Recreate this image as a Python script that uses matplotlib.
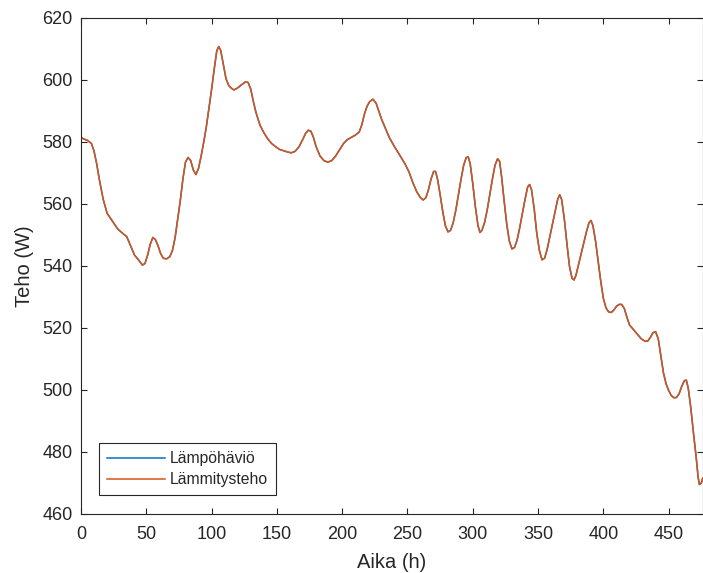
import matplotlib
matplotlib.use("Agg")
import matplotlib.pyplot as plt

plt.rcParams['font.family'] = ['Liberation Sans', 'DejaVu Sans']

# hours and power (W), both curves share the same values
hours = [0, 2, 5, 8, 10, 12, 14, 17, 20, 24, 28, 32, 35, 38, 41, 44, 47, 49, 51, 53,
         55, 57, 59, 61, 63, 65.5, 68, 70, 72, 74, 76, 78, 80, 82, 84, 86, 88, 90, 92, 94,
         96, 98, 100, 102, 104, 105.5, 107, 109, 111, 113, 115, 117, 119, 121, 123, 126, 128, 130, 132, 134,
         137, 140, 143, 146, 149, 152, 155, 158, 161, 164, 167, 170, 172, 174, 176, 178, 180, 183, 186, 189,
         192, 195, 198, 201, 204, 207, 210, 213, 215, 217, 219, 221, 223.5, 226, 228, 230, 233, 236, 240, 244,
         248, 251, 254, 257, 260, 262, 264, 266, 268, 270, 271.5, 273, 275, 277, 279, 281, 283, 285, 287, 289,
         291, 293, 295, 296.5, 298, 300, 302, 304, 305.5, 307, 309, 311, 313, 315, 317, 319, 320.5, 322, 324, 326,
         328, 330, 332, 334, 336, 338, 340, 342, 343.5, 345, 347, 349, 351, 353, 355, 357, 359, 361, 363, 365,
         366.5, 368, 370, 372, 374, 376, 377.5, 379, 381, 383, 385, 387, 389, 390.5, 392, 394, 396, 398, 400, 402,
         404, 406, 408, 410, 412, 414, 416, 418, 420, 423, 426, 429, 432, 434, 436, 438, 440, 442, 444, 446,
         448, 450, 452, 454, 456, 458, 460, 462, 463.5, 465, 467, 469, 471, 472.5, 473.5, 475, 476]
heat_loss = [581.5, 581, 580.5, 579.5, 577, 573, 568, 561.5, 557, 554.5, 552, 550.5, 549.5, 546.5, 543.5, 542, 540.3, 540.8, 543.5, 547,
             549.2, 548.5, 546.5, 544, 542.5, 542.3, 543, 545, 549, 555, 561, 568, 573.5, 575, 574, 571, 569.5, 571.5, 575.5, 580,
             585, 591, 597, 603.5, 609.5, 610.8, 609.5, 605, 600.5, 598.3, 597.4, 596.8, 597.2, 597.8, 598.5, 599.4, 599.2, 597, 593, 589.5,
             585.5, 583, 581, 579.5, 578.5, 577.6, 577.2, 576.8, 576.5, 577, 578.5, 581, 582.8, 583.8, 583.5, 581.5, 578.5, 575.5, 574, 573.5,
             574, 575.5, 577.5, 579.5, 580.8, 581.5, 582.2, 583.2, 585.5, 589, 591.5, 593, 593.8, 592.5, 590, 587.5, 584.5, 581.5, 578.5, 575.8,
             573, 570.5, 567, 564, 562, 561.3, 562, 564.5, 568, 570.5, 570.5, 568, 563, 557.5, 553, 551, 551.5, 554, 558, 563,
             568, 572.5, 575, 575.2, 573, 566.5, 559, 553, 550.8, 551.5, 554, 558, 563, 568, 572.5, 574.6, 573.8, 569, 561, 553.5,
             548, 545.5, 546, 548.5, 552.5, 557, 561.5, 565.5, 566.3, 564.5, 558.5, 550.5, 545, 542, 542.5, 545.5, 549.5, 553.5, 557.5, 561.5,
             563, 561.5, 555.5, 547.5, 540, 536, 535.5, 537, 540.5, 544, 547.5, 551, 554, 554.7, 553, 548, 541.5, 535, 529.5, 526.5,
             525.2, 525, 525.8, 527, 527.6, 527.6, 526.3, 523.5, 521, 519.5, 518, 516.5, 515.7, 515.8, 517, 518.5, 518.8, 516.5, 511, 505.5,
             502, 499.8, 498.2, 497.5, 497.6, 498.8, 501.2, 503, 503.2, 500.5, 494, 486, 478.5, 472, 469.5, 470, 471.5]
heating_power = list(heat_loss)

dark = (0.15, 0.15, 0.15)

fig = plt.figure(figsize=(7.03, 5.73), dpi=100)
ax = fig.add_axes([81 / 703, 1 - 514 / 573, 1 - 81 / 703 - 0.0005, (514 - 18) / 573])

ax.plot(hours, heat_loss, color=(0, 0.447, 0.741), lw=1.1, label='Lämpöhäviö')
ax.plot(hours, heating_power, color=(0.85, 0.325, 0.098), lw=1.1, label='Lämmitysteho')

ax.set_xlim(0, 476)
ax.set_ylim(460, 620)
ax.set_xticks(range(0, 451, 50))
ax.set_yticks(range(460, 621, 20))

for s in ax.spines.values():
    s.set_color(dark)
    s.set_linewidth(0.8)
ax.tick_params(direction='in', length=4.3, width=0.8, color=dark, labelcolor=dark,
               labelsize=13, top=True, right=True)
ax.tick_params(axis='x', pad=8.5)
ax.tick_params(axis='y', pad=6)

ax.set_xlabel('Aika (h)', fontsize=14.5, color=dark, labelpad=7)
ax.set_ylabel('Teho (W)', fontsize=14.5, color=dark, labelpad=6)

leg = ax.legend(loc='lower left', bbox_to_anchor=(0.029, 0.038), fontsize=11.3,
                handlelength=3.7, handletextpad=0.33, borderpad=0.5, labelspacing=0.4,
                fancybox=False, framealpha=1, borderaxespad=0)
leg.get_frame().set_edgecolor(dark)
leg.get_frame().set_linewidth(0.8)
for t in leg.get_texts():
    t.set_color(dark)

fig.savefig('out.png', dpi=100)
